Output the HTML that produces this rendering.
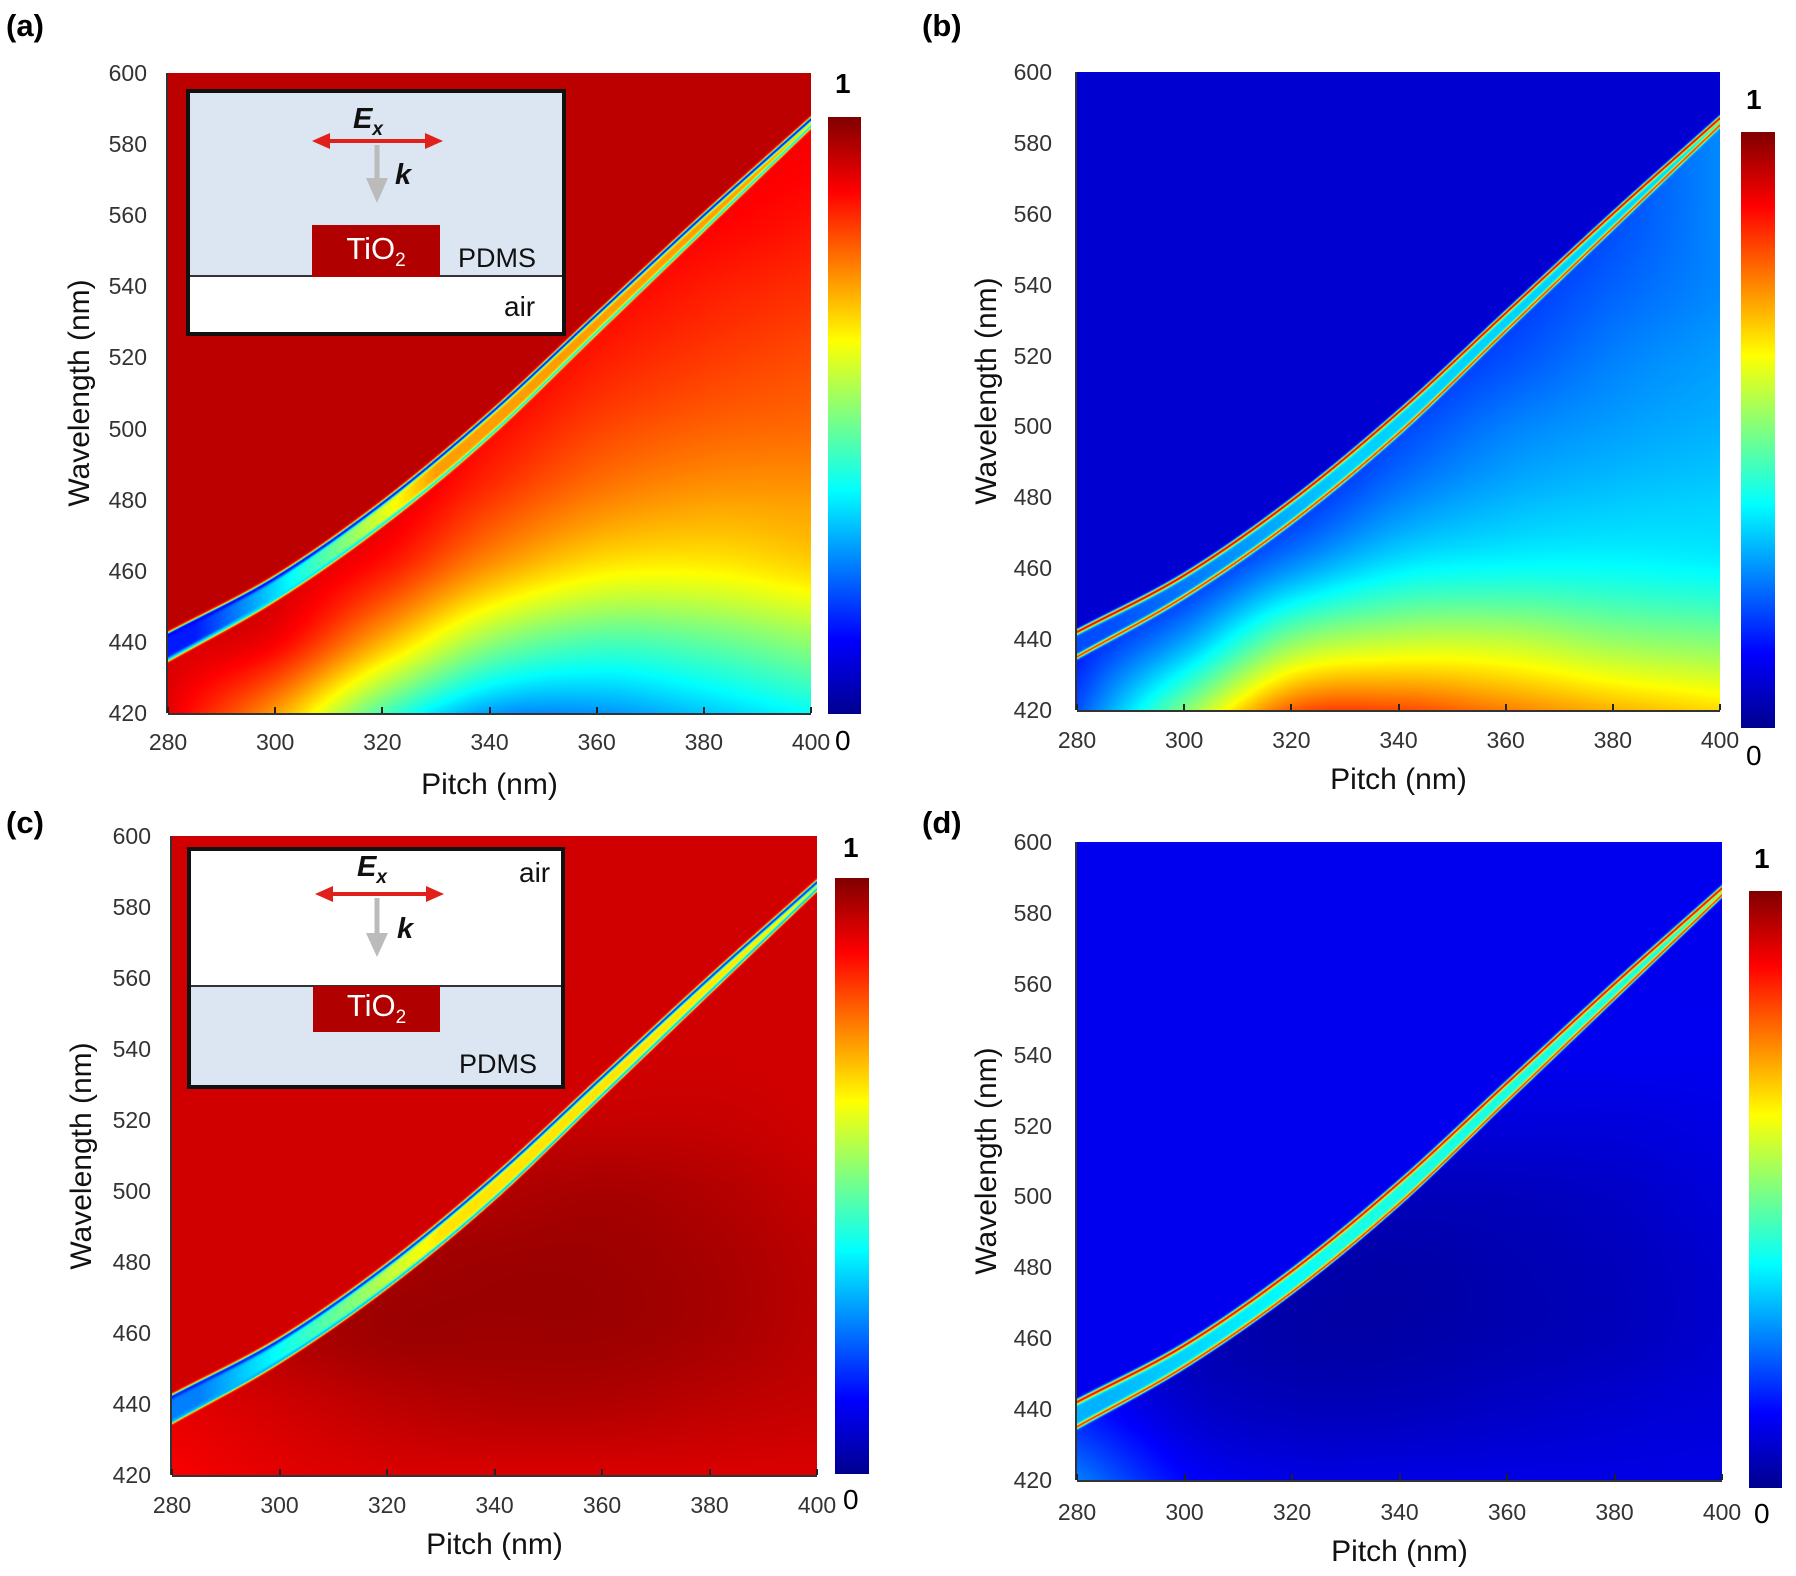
<!DOCTYPE html>
<html><head><meta charset="utf-8">
<style>
html,body{margin:0;padding:0;background:#fff;font-family:"Liberation Sans",Arial,sans-serif;}
#root{position:relative;width:1796px;height:1576px;overflow:hidden;font-family:"Liberation Sans",Arial,sans-serif;}
.abs{position:absolute;}
.tick{position:absolute;font-size:23px;color:#333;white-space:nowrap;}
.title{position:absolute;font-size:30px;color:#111;white-space:nowrap;}
.plab{position:absolute;font-size:31px;font-weight:bold;color:#000;}
.cbl{position:absolute;font-size:28px;font-weight:bold;color:#000;}
canvas{position:absolute;display:block;}
.inset{position:absolute;border:4px solid #111;box-sizing:border-box;overflow:hidden;font-family:"Liberation Sans",Arial,sans-serif;}
</style></head>
<body>
<div id="root"></div>
<script>
// ---- data ----
const pitchTicks = [280,300,320,340,360,380,400];
const wlTicks = [420,440,460,480,500,520,540,560,580,600];
// resonance lines (pitch -> wavelength)
const linePitch = [280,300,320,340,360,380,400];
const upperWl = [442,458,479,504,532,560,587];
const lowerWl = [435,452,473,498,527,556,585];
// background field grid
const gridPitch = [280,300,320,340,360,380,400];
const gridWl = [420,440,460,480,500,520,540,560,580,600];
const gridA = [
 [0.90,0.72,0.45,0.28,0.27,0.32,0.38],
 [0.92,0.88,0.70,0.52,0.45,0.47,0.52],
 [0.93,0.92,0.85,0.72,0.64,0.63,0.66],
 [0.93,0.93,0.91,0.82,0.75,0.72,0.72],
 [0.93,0.93,0.93,0.87,0.81,0.78,0.77],
 [0.93,0.93,0.93,0.90,0.85,0.82,0.80],
 [0.93,0.93,0.93,0.92,0.88,0.85,0.83],
 [0.93,0.93,0.93,0.92,0.90,0.88,0.86],
 [0.93,0.93,0.93,0.92,0.90,0.89,0.88],
 [0.93,0.93,0.93,0.92,0.90,0.89,0.88]];
const gridB = [
 [0.20,0.50,0.78,0.80,0.75,0.70,0.66],
 [0.14,0.28,0.50,0.56,0.56,0.52,0.50],
 [0.11,0.15,0.27,0.36,0.38,0.38,0.37],
 [0.10,0.11,0.16,0.25,0.30,0.32,0.33],
 [0.10,0.10,0.12,0.19,0.25,0.28,0.30],
 [0.10,0.10,0.11,0.15,0.20,0.25,0.28],
 [0.10,0.10,0.10,0.13,0.17,0.22,0.26],
 [0.10,0.10,0.10,0.12,0.15,0.20,0.26],
 [0.10,0.10,0.10,0.12,0.15,0.20,0.26],
 [0.10,0.10,0.10,0.12,0.15,0.20,0.26]];
const gridC = [
 [0.88,0.90,0.91,0.91,0.91,0.91,0.91],
 [0.90,0.92,0.94,0.95,0.95,0.94,0.93],
 [0.92,0.95,0.97,0.97,0.97,0.96,0.94],
 [0.92,0.94,0.96,0.97,0.97,0.96,0.94],
 [0.92,0.93,0.94,0.95,0.96,0.95,0.93],
 [0.92,0.92,0.92,0.93,0.93,0.93,0.92],
 [0.92,0.92,0.92,0.92,0.92,0.92,0.92],
 [0.92,0.92,0.92,0.92,0.92,0.92,0.92],
 [0.92,0.92,0.92,0.92,0.92,0.92,0.92],
 [0.92,0.92,0.92,0.92,0.92,0.92,0.92]];
const gridD = [
 [0.25,0.13,0.10,0.10,0.10,0.10,0.10],
 [0.15,0.08,0.06,0.06,0.07,0.08,0.09],
 [0.10,0.06,0.04,0.04,0.05,0.06,0.08],
 [0.10,0.07,0.05,0.04,0.05,0.06,0.08],
 [0.10,0.08,0.07,0.06,0.06,0.07,0.09],
 [0.11,0.10,0.10,0.09,0.09,0.09,0.10],
 [0.11,0.11,0.11,0.11,0.11,0.11,0.11],
 [0.11,0.11,0.11,0.11,0.11,0.11,0.11],
 [0.11,0.11,0.11,0.11,0.11,0.11,0.11],
 [0.11,0.11,0.11,0.11,0.11,0.11,0.11]];
const aboveVals = [0.94, 0.08, 0.92, 0.11];
const upperLineVals = [0.12, 0.92, 0.15, 0.90];
const lowerLineVals = [0.35, 0.85, 0.30, 0.85];
const betweenStartVals = [0.15, 0.20, 0.25, 0.30];
const betweenVals = [0.72, 0.33, 0.65, 0.40];

// ---- helpers ----
const root = document.getElementById('root');
function jet(v){
  v=Math.max(0,Math.min(1,v));
  const r=Math.max(0,Math.min(1,1.5-Math.abs(4*v-3)));
  const g=Math.max(0,Math.min(1,1.5-Math.abs(4*v-2)));
  const b=Math.max(0,Math.min(1,1.5-Math.abs(4*v-1)));
  return [r*255|0,g*255|0,b*255|0];
}
function smooth(xs,ys,x){
  const n=xs.length;
  let i=Math.floor((x-xs[0])/(xs[1]-xs[0]));
  i=Math.max(0,Math.min(n-2,i));
  const t=Math.max(0,Math.min(1,(x-xs[i])/(xs[i+1]-xs[i])));
  const p0=ys[Math.max(0,i-1)],p1=ys[i],p2=ys[i+1],p3=ys[Math.min(n-1,i+2)];
  const m1=(i>0)?(p2-p0)/2:(p2-p1), m2=(i<n-2)?(p3-p1)/2:(p2-p1);
  const t2=t*t,t3=t2*t;
  return (2*t3-3*t2+1)*p1+(t3-2*t2+t)*m1+(-2*t3+3*t2)*p2+(t3-t2)*m2;
}
function el(tag,cls,text,style){
  const e=document.createElement(tag); if(cls) e.className=cls; if(text!==undefined) e.textContent=text;
  Object.assign(e.style,style||{}); root.appendChild(e); return e;
}

const panels=[
 {key:'a',grid:gridA,x0:168,x1:811,y0:73,y1:713,cb:[828,117,33,597],one:[845,84],zero:[845,741],lab:[6,8],xt:742,xtitle:785,yt:147,ytitle:80},
 {key:'b',grid:gridB,x0:1077,x1:1720,y0:72,y1:710,cb:[1741,132,34,596],one:[1756,100],zero:[1756,756],lab:[922,8],xt:740,xtitle:780,yt:1052,ytitle:987},
 {key:'c',grid:gridC,x0:172,x1:817,y0:836,y1:1475,cb:[835,878,34,596],one:[853,848],zero:[853,1500],lab:[6,805],xt:1505,xtitle:1545,yt:151,ytitle:82},
 {key:'d',grid:gridD,x0:1077,x1:1722,y0:842,y1:1480,cb:[1749,891,33,597],one:[1764,859],zero:[1764,1514],lab:[922,805],xt:1512,xtitle:1552,yt:1052,ytitle:987}
];

panels.forEach((P,pi)=>{
  const W=P.x1-P.x0,H=P.y1-P.y0;
  const xs=p=>P.x0+(p-280)/120*W;
  const ys=w=>P.y1-(w-420)/180*H;
  const cv=el('canvas','',undefined,{left:P.x0+'px',top:P.y0+'px',width:W+'px',height:H+'px'});
  
  
  cv.width=W;cv.height=H;
  const ctx=cv.getContext('2d');const img=ctx.createImageData(W,H);
  for(let px=0;px<W;px++){
    const p=280+(px+0.5)/W*120;
    const up=smooth(linePitch,upperWl,p), lo=smooth(linePitch,lowerWl,p);
    const col=P.grid.map(row=>smooth(gridPitch,row,p));
    const ramp=Math.min(1,Math.max(0,(p-285)/45));
    const bv=betweenStartVals[pi]+(betweenVals[pi]-betweenStartVals[pi])*ramp;
    for(let py=0;py<H;py++){
      const w=600-(py+0.5)/H*180;
      let v;
      if(w>up) v=aboveVals[pi];
      else if(w<lo) v=smooth(gridWl,col,w);
      else v=bv;
      const gu=Math.exp(-Math.pow((w-up)/0.7,2)), gl=Math.exp(-Math.pow((w-lo)/0.6,2));
      v=v*(1-gu)+upperLineVals[pi]*gu;
      v=v*(1-gl)+lowerLineVals[pi]*gl;
      const c=jet(v);const k=(py*W+px)*4;
      img.data[k]=c[0];img.data[k+1]=c[1];img.data[k+2]=c[2];img.data[k+3]=255;
    }
  }
  ctx.putImageData(img,0,0);
  const ax=el('div','abs',undefined,{left:(P.x0-2)+'px',top:P.y0+'px',width:'2px',height:H+'px',background:'#333'});
  
  
  const bx=el('div','abs',undefined,{left:P.x0+'px',top:P.y1+'px',width:W+'px',height:'2px',background:'#333'});
  
  
  pitchTicks.forEach(t=>{
    const e=el('div','tick',String(t),{left:(xs(t)-25)+'px',width:'50px',textAlign:'center',top:(P.xt-13)+'px'});
    
    
    const m=el('div','abs',undefined,{left:(xs(t)-1)+'px',top:(P.y1-6)+'px',width:'2px',height:'6px',background:'#222'});
    
    
  });
  wlTicks.forEach(t=>{
    const e=el('div','tick',String(t),{left:(P.yt-50)+'px',width:'50px',textAlign:'right',top:(ys(t)-13)+'px'});
    
    
  });
  const xt=el('div','title','Pitch (nm)',{left:((P.x0+P.x1)/2-100)+'px',width:'200px',textAlign:'center',top:(P.xtitle-17)+'px'});
  
  
  const yt=el('div','title','Wavelength (nm)',{left:(P.ytitle-150)+'px',width:'300px',textAlign:'center',top:((P.y0+P.y1)/2-17)+'px',transform:'rotate(-90deg)'});
  
  
  const lb=el('div','plab','('+P.key+')',{left:P.lab[0]+'px',top:P.lab[1]+'px'});
  
  
  const cb=el('div','abs',undefined,{left:P.cb[0]+'px',top:P.cb[1]+'px',width:P.cb[2]+'px',height:P.cb[3]+'px',
    background:'linear-gradient(to top,#00008f 0%,#0000ff 12.5%,#00ffff 37.5%,#ffff00 62.5%,#ff0000 87.5%,#800000 100%)'});
  
  
  const c1=el('div','cbl','1',{left:(P.one[0]-10)+'px',top:(P.one[1]-16)+'px'});
  
  
  const c0=el('div','cbl','0',{left:(P.zero[0]-10)+'px',top:(P.zero[1]-16)+'px',fontWeight:'normal'});
  
  
});
</script>

<!-- inset (a) -->
<div class="inset" style="left:186px;top:89px;width:380px;height:247px;background:#fff;">
  <div class="abs" style="left:0;top:0;width:372px;height:182px;background:#dce6f2;border-bottom:2px solid #333;"></div>
  <div class="abs" style="left:122px;top:132px;width:128px;height:52px;background:#b00000;"></div>
  <div class="abs" style="left:122px;top:138px;width:128px;text-align:center;color:#fff;font-size:31px;">TiO<sub style="font-size:19px">2</sub></div>
  <div class="abs" style="left:268px;top:150px;font-size:27px;color:#111;">PDMS</div>
  <div class="abs" style="left:314px;top:198px;font-size:28px;color:#111;">air</div>
  <div class="abs" style="left:163px;top:10px;font-size:29px;font-weight:bold;font-style:italic;color:#111;">E<sub style="font-size:19px">x</sub></div>
  <svg class="abs" style="left:0;top:0" width="372" height="240">
    <line x1="135" y1="48" x2="240" y2="48" stroke="#e0201a" stroke-width="4"/>
    <polygon points="122,48 140,40 140,56" fill="#e0201a"/><polygon points="253,48 235,40 235,56" fill="#e0201a"/>
    <line x1="187" y1="52" x2="187" y2="85" stroke="#bbb" stroke-width="5"/>
    <polygon points="176,85 198,85 187,110" fill="#bbb"/>
  </svg>
  <div class="abs" style="left:205px;top:66px;font-size:29px;font-weight:bold;font-style:italic;color:#111;">k</div>
</div>

<!-- inset (c) -->
<div class="inset" style="left:187px;top:847px;width:378px;height:242px;background:#fff;">
  <div class="abs" style="left:0;top:134px;width:370px;height:110px;background:#dce6f2;border-top:2px solid #333;"></div>
  <div class="abs" style="left:122px;top:135px;width:127px;height:46px;background:#b00000;"></div>
  <div class="abs" style="left:122px;top:137px;width:127px;text-align:center;color:#fff;font-size:31px;">TiO<sub style="font-size:19px">2</sub></div>
  <div class="abs" style="left:328px;top:6px;font-size:28px;color:#111;">air</div>
  <div class="abs" style="left:268px;top:198px;font-size:27px;color:#111;">PDMS</div>
  <div class="abs" style="left:166px;top:0px;font-size:29px;font-weight:bold;font-style:italic;color:#111;">E<sub style="font-size:19px">x</sub></div>
  <svg class="abs" style="left:0;top:0" width="372" height="240">
    <line x1="137" y1="43" x2="240" y2="43" stroke="#e0201a" stroke-width="4"/>
    <polygon points="124,43 142,35 142,51" fill="#e0201a"/><polygon points="253,43 235,35 235,51" fill="#e0201a"/>
    <line x1="186" y1="47" x2="186" y2="82" stroke="#bbb" stroke-width="5"/>
    <polygon points="175,82 197,82 186,106" fill="#bbb"/>
  </svg>
  <div class="abs" style="left:206px;top:62px;font-size:29px;font-weight:bold;font-style:italic;color:#111;">k</div>
</div>
</body></html>
